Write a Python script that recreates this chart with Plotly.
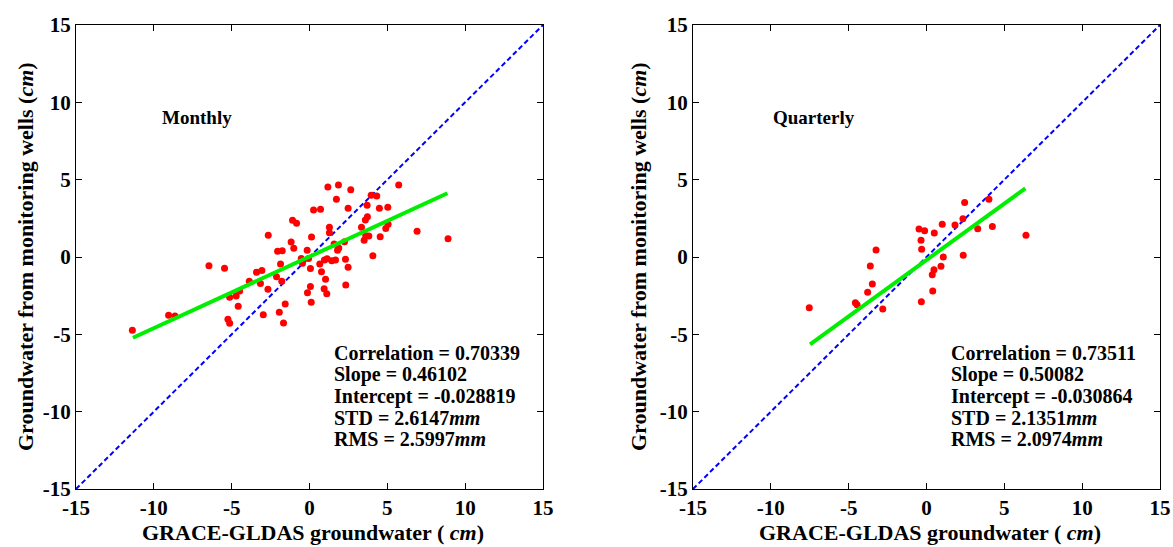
import plotly.graph_objects as go

# Monthly comparison (cm)
monthly_grace = [
    -11.38, -9.05, -8.64, -6.46, -5.46, -5.24, -5.13, -5.13, -4.71, -4.49,
    -4.58, -3.87, -3.40, -3.06, -3.15, -2.97, -2.65, -2.67, -2.12, -1.78,
    -2.05, -1.75, -1.86, -1.56, -1.94, -1.67, -1.18, -1.01, -1.09, -0.83,
    -0.53, -0.45, -0.15, -0.06, 0.06, 0.13, 0.06, -0.13, 0.11, 0.26,
    0.71, 1.18, 1.28, 1.28, 0.66, 0.96, 1.13, 0.77, 1.03, 0.94,
    1.11, 1.86, 2.65, 5.73, 1.73, 3.96, 4.32, 3.70, 2.48, 4.49,
    5.03, 3.72, 3.59, 3.34, 5.05, 4.90, 3.61, 3.81, 3.51, 4.54,
    6.91, 8.90, 1.58, 2.25, 1.88, 1.80, 4.07, 1.43, 1.67, 2.31,
    2.48, 2.33,
]
monthly_wells = [
    -4.74, -3.77, -3.81, -0.56, -0.73, -4.03, -4.29, -2.61, -2.52, -2.20,
    -3.19, -1.57, -0.99, -0.88, -1.72, -3.73, 1.40, -2.09, -1.27, -1.57,
    0.37, 0.41, -0.45, -3.04, -3.58, -4.27, 0.97, 0.56, 2.37, 2.18,
    -0.09, -0.41, 0.43, -0.09, -0.75, 1.29, -1.90, -2.31, -2.93, 3.04,
    3.08, 4.52, 1.92, 1.57, -0.45, -0.19, -0.11, -0.95, -1.44, -2.05,
    -2.37, 4.65, 4.35, 4.65, 3.73, 3.99, 3.94, 3.34, 3.15, 3.15,
    3.21, 2.61, 2.39, 1.92, 2.11, 1.85, 1.38, 1.36, 1.08, 1.31,
    1.66, 1.18, 0.84, 0.99, 0.58, 0.43, 0.08, -0.24, -0.19, -0.15,
    -0.67, -1.81,
]
monthly_fit_x = [-11.34, 8.86]
monthly_fit_y = [-5.22, 4.12]

# Quarterly comparison (cm)
quarterly_grace = [
    -7.53, -4.57, -4.46, -3.78, -3.48, -3.61, -3.24, -2.81, -0.48, -0.12,
    -0.35, -0.31, -0.33, 0.50, 1.01, 1.83, 2.34, 2.45, 1.08, 0.93,
    0.48, 0.37, 0.40, 2.36, 3.29, 4.01, 4.23, 6.39,
]
quarterly_wells = [
    -3.28, -2.95, -3.08, -2.28, -1.75, -0.58, 0.45, -3.36, 1.81, 1.70,
    1.08, 0.50, -2.89, 1.55, 2.11, 2.07, 2.48, 3.53, 0.00, -0.60,
    -0.82, -1.14, -2.20, 0.11, 1.83, 3.73, 1.98, 1.40,
]
quarterly_fit_x = [-7.48, 6.35]
quarterly_fit_y = [-5.65, 4.44]

one_to_one = [-15, 15]
tick_vals = [-15, -10, -5, 0, 5, 10, 15]
tick_text = ['-15', '-10', '-5', '0', '5', '10', '15']

monthly_stats = [
    'Correlation = 0.70339',
    'Slope = 0.46102',
    'Intercept = -0.028819',
    'STD = 2.6147<i>mm</i>',
    'RMS = 2.5997<i>mm</i>',
]
quarterly_stats = [
    'Correlation = 0.73511',
    'Slope = 0.50082',
    'Intercept = -0.030864',
    'STD = 2.1351<i>mm</i>',
    'RMS = 2.0974<i>mm</i>',
]

FONT = 'Liberation Serif, Times New Roman, serif'

fig = go.Figure()

panels = [
    ('x', 'y', monthly_grace, monthly_wells, monthly_fit_x, monthly_fit_y, 'Monthly', monthly_stats),
    ('x2', 'y2', quarterly_grace, quarterly_wells, quarterly_fit_x, quarterly_fit_y, 'Quarterly', quarterly_stats),
]

annotations = []
for xa, ya, gx, wy, fx, fy, label, stats in panels:
    # 1:1 reference line
    fig.add_trace(go.Scatter(
        x=one_to_one, y=one_to_one, xaxis=xa, yaxis=ya, mode='lines',
        line=dict(color='#0000ff', width=2, dash='5px,3px'),
        showlegend=False, hoverinfo='skip'
    ))
    # observations
    fig.add_trace(go.Scatter(
        x=gx, y=wy, xaxis=xa, yaxis=ya, mode='markers',
        marker=dict(color='#ff0000', size=7),
        showlegend=False
    ))
    # regression line
    fig.add_trace(go.Scatter(
        x=fx, y=fy, xaxis=xa, yaxis=ya, mode='lines',
        line=dict(color='#00ee00', width=4),
        showlegend=False
    ))
    annotations.append(dict(
        x=-7.2, y=9.0, xref=xa, yref=ya, text='<b>' + label + '</b>',
        xanchor='center', yanchor='middle',
        showarrow=False, font=dict(family=FONT, size=19, color='black')
    ))
    for i, line in enumerate(stats):
        annotations.append(dict(
            x=1.45, y=-6.19 - 1.40 * i, xref=xa, yref=ya, text='<b>' + line + '</b>',
            xanchor='left', yanchor='middle', showarrow=False,
            font=dict(family=FONT, size=20, color='black')
        ))

# axis titles as paper annotations
for xc in [313 / 1173, 930 / 1173]:
    annotations.append(dict(
        x=xc, y=1 - 532 / 547, xref='paper', yref='paper',
        xanchor='center', yanchor='middle',
        text='<b>GRACE-GLDAS groundwater ( <i>cm</i>)</b>',
        showarrow=False, font=dict(family=FONT, size=22, color='black')
    ))
for xc in [25 / 1173, 638 / 1173]:
    annotations.append(dict(
        x=xc, y=1 - 257 / 547, xref='paper', yref='paper', textangle=-90,
        xanchor='center', yanchor='middle',
        text='<b>Groundwater from monitoring wells (<i>cm</i>)</b>',
        showarrow=False, font=dict(family=FONT, size=22, color='black')
    ))

axis_style = dict(
    range=[-15, 15], tickvals=tick_vals,
    ticktext=['<b>' + t + '</b>' for t in tick_text],
    ticks='inside', ticklen=6, tickcolor='black', tickwidth=1,
    showline=True, linecolor='black', linewidth=1, mirror='ticks',
    showgrid=False, zeroline=False, automargin=False,
    tickfont=dict(family=FONT, size=21, color='black'),
)

fig.update_layout(
    width=1173, height=547,
    margin=dict(l=0, r=0, t=0, b=0),
    plot_bgcolor='white', paper_bgcolor='white',
    xaxis=dict(domain=[76 / 1173, 543 / 1173], anchor='y', **axis_style),
    yaxis=dict(domain=[1 - 489 / 547, 1 - 25 / 547], anchor='x', **axis_style),
    xaxis2=dict(domain=[693 / 1173, 1160 / 1173], anchor='y2', **axis_style),
    yaxis2=dict(domain=[1 - 489 / 547, 1 - 25 / 547], anchor='x2', **axis_style),
    annotations=annotations,
    showlegend=False,
)

fig.write_html("out.html", config={'displayModeBar': False},
               post_script="document.body.style.margin='0';")
